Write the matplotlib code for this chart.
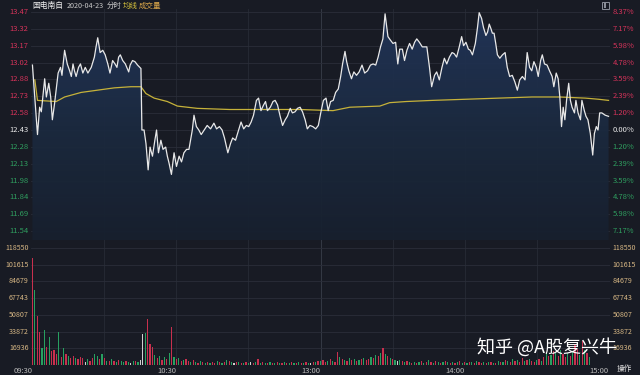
import matplotlib
matplotlib.use('Agg')
import matplotlib.pyplot as plt
from matplotlib.patches import Rectangle
from matplotlib.colors import LinearSegmentedColormap
import numpy as np

plt.rcParams['font.family'] = ['Noto Sans CJK SC', 'DejaVu Sans']

# ---------------- data ----------------
prev_close = 12.43
price_ticks = [13.47, 13.32, 13.17, 13.02, 12.88, 12.73, 12.58, 12.43,
               12.28, 12.13, 11.98, 11.84, 11.69, 11.54]
pct_labels = ['8.37%', '7.17%', '5.98%', '4.78%', '3.59%', '2.39%', '1.20%', '0.00%',
              '1.20%', '2.39%', '3.59%', '4.78%', '5.98%', '7.17%']
vol_ticks = [118550, 101615, 84679, 67743, 50807, 33872, 16936]
time_ticks = [0, 60, 120, 180, 240]
time_labels = ['09:30', '10:30', '13:00', '14:00', '15:00']

price_min = [0, 2.1, 3.0, 3.7, 5.1, 5.8, 6.8, 7.6, 8.3, 9.2, 10.7, 11.7, 12.3, 13.4, 14.5, 15.5,
             16.2, 16.9, 17.5, 18.2, 19.2, 20.0, 21.0, 22.0, 23.1, 24.5, 25.8, 26.5, 27.2, 28.2,
             29.3, 30.3, 31.4, 32.3, 33.4, 34.4, 35.2, 35.9, 36.6, 37.6, 38.7, 40.1, 40.7, 41.7,
             42.7, 43.8, 45.2, 45.6, 46.5, 47.3, 48.2, 49.0, 50.0, 51.0, 51.7, 52.5, 53.5, 54.4,
             55.5, 56.2, 56.9, 57.9, 59.0, 60.0, 61.1, 62.1, 63.1, 64.2, 65.2, 66.6, 67.3, 68.3,
             69.3, 70.3, 72.8, 74.2, 75.6, 76.7, 77.9, 79.0, 80.0, 81.4, 82.5, 83.4, 84.6, 85.9,
             86.9, 88.0, 89.1, 90.1, 91.1, 92.1, 93.3, 94.2, 95.2, 96.3, 97.1, 97.9, 99.1, 100.2,
             101.1, 102.1, 103.2, 104.2, 105.3, 106.2, 107.4, 108.3, 109.4, 110.4, 111.5, 112.5,
             113.6, 114.5, 115.6, 116.8, 118.0, 119.1, 120.1, 121.2, 122.3, 123.2, 124.2, 125.3,
             126.3, 127.4, 128.4, 129.2, 130.2, 130.9, 131.8, 132.9, 133.9, 135.0, 136.1, 137.3,
             138.4, 139.6, 140.8, 141.9, 143.0, 144.0, 145.0, 146.0, 146.9, 148.1, 149.1, 150.2,
             151.3, 152.2, 153.0, 154.1, 155.0, 156.0, 157.1, 158.2, 159.2, 160.1, 161.2, 162.4,
             164.3, 165.4, 166.3, 167.5, 168.4, 169.5, 170.6, 171.6, 172.6, 173.7, 174.8, 175.7,
             176.7, 177.8, 178.8, 179.6, 180.6, 181.6, 182.4, 183.3, 184.5, 185.4, 186.1, 187.1,
             187.9, 188.9, 189.6, 190.3, 191.0, 191.6, 192.3, 193.0, 193.7, 194.7, 195.8, 196.9,
             197.8, 198.8, 199.9, 201.0, 202.0, 203.0, 204.1, 205.2, 206.1, 207.1, 208.0, 208.9,
             209.9, 210.7, 211.7, 212.4, 213.3, 214.4, 215.4, 216.5, 217.2, 218.2, 219.0, 219.7,
             220.4, 221.1, 221.8, 222.5, 223.4, 224.1, 224.8, 225.8, 226.4, 227.3, 228.3, 228.9,
             229.9, 230.6, 231.4, 232.4, 233.4, 234.1, 234.9, 235.6, 236.3, 237.2, 238.6, 240.0]
price_val = [13.00, 12.39, 12.63, 12.59, 12.88, 12.72, 12.84, 12.72, 12.52, 12.66, 12.93, 12.98,
             12.91, 13.13, 13.01, 12.95, 12.90, 13.01, 12.95, 12.90, 12.98, 13.01, 12.93, 12.98,
             12.93, 12.98, 13.07, 13.16, 13.24, 13.11, 13.13, 13.09, 13.01, 12.93, 13.04, 13.01,
             12.98, 13.07, 13.09, 13.04, 13.01, 12.94, 13.00, 13.04, 13.03, 13.00, 12.97, 12.43,
             12.43, 12.31, 12.08, 12.28, 12.20, 12.34, 12.43, 12.23, 12.34, 12.26, 12.28, 12.20,
             12.14, 12.04, 12.23, 12.11, 12.20, 12.15, 12.23, 12.26, 12.26, 12.43, 12.56, 12.46,
             12.43, 12.39, 12.47, 12.44, 12.49, 12.44, 12.46, 12.43, 12.36, 12.23, 12.31, 12.36,
             12.34, 12.43, 12.50, 12.44, 12.47, 12.46, 12.50, 12.56, 12.69, 12.71, 12.60, 12.65,
             12.68, 12.60, 12.63, 12.68, 12.69, 12.65, 12.55, 12.47, 12.52, 12.55, 12.62, 12.58,
             12.59, 12.62, 12.63, 12.59, 12.52, 12.44, 12.47, 12.46, 12.44, 12.47, 12.58, 12.69,
             12.71, 12.60, 12.68, 12.69, 12.76, 12.79, 12.90, 13.01, 13.12, 13.03, 12.95, 12.88,
             12.94, 12.91, 12.94, 13.00, 12.93, 12.95, 13.00, 13.01, 13.00, 13.07, 13.16, 13.23,
             13.45, 13.25, 13.22, 13.19, 13.20, 13.01, 13.14, 13.14, 13.04, 13.13, 13.19, 13.14,
             13.20, 13.23, 13.20, 13.16, 13.16, 12.98, 12.81, 12.91, 12.94, 12.87, 12.98, 13.06,
             13.01, 13.07, 13.11, 13.10, 13.07, 13.16, 13.25, 13.17, 13.20, 13.14, 13.13, 13.09,
             13.19, 13.33, 13.46, 13.41, 13.33, 13.26, 13.29, 13.36, 13.32, 13.28, 13.28, 13.19,
             13.09, 13.06, 13.09, 13.11, 12.98, 12.90, 12.91, 12.85, 12.78, 12.87, 12.90, 12.87,
             13.11, 12.98, 12.95, 13.03, 12.98, 12.90, 13.04, 13.09, 13.01, 13.00, 12.95, 12.90,
             12.81, 12.93, 12.88, 12.72, 12.46, 12.63, 12.52, 12.69, 12.84, 12.69, 12.63, 12.58,
             12.69, 12.58, 12.52, 12.69, 12.60, 12.55, 12.52, 12.40, 12.21, 12.40, 12.46, 12.43,
             12.58, 12.58, 12.56, 12.55]

avg_min = [1.0, 2.1, 9.9, 13.4, 20.3, 27.2, 34.1, 41.0, 45.2, 47.3, 50.7, 56.2, 60.4, 68.7,
           82.2, 97.7, 111.5, 125.2, 132.2, 144.7, 148.8, 155.7, 166.6, 180.6, 194.4, 208.1,
           219.3, 230.3, 235.8, 240.0]
avg_val = [12.87, 12.69, 12.68, 12.72, 12.76, 12.78, 12.80, 12.81, 12.81, 12.75, 12.71, 12.68,
           12.64, 12.62, 12.61, 12.61, 12.61, 12.60, 12.63, 12.64, 12.67, 12.68, 12.69, 12.70,
           12.71, 12.72, 12.72, 12.71, 12.70, 12.69]

volume = [108700, 76000, 49600, 33700, 17500, 35100, 18200, 28400, 14200, 14900, 11000, 33700,
          8000, 17500, 11000, 9000, 7400, 9000, 7400, 5700, 8000, 7400, 3000, 6500, 4000, 7400,
          11400, 9000, 6000, 10800, 7400, 4000, 4000, 5700, 4000, 3500, 5000, 4000, 3500, 4500,
          3000, 2500, 4000, 4000, 3000, 5000, 31100, 32000, 46300, 21300, 18000, 10000, 7000,
          9000, 5000, 8000, 6000, 12000, 38500, 8000, 6000, 7000, 4000, 5000, 6000, 4000, 3000,
          5000, 3000, 2500, 4000, 3000, 2000, 3500, 2500, 3000, 2000, 4000, 3500, 2500, 3000,
          5000, 4000, 3000, 2500, 3500, 3000, 2000, 2500, 3000, 2000, 3500, 2500, 3000, 6000,
          2500, 3000, 2000, 2500, 3000, 2000, 2500, 3500, 2000, 2500, 3000, 2000, 2500, 3000,
          2000, 2500, 3000, 2500, 2000, 3000, 2500, 2000, 3000, 3500, 4000, 4000, 5000, 3000,
          4000, 6000, 4000, 3000, 13500, 8000, 6000, 5000, 4000, 7000, 5000, 6000, 4000, 5000,
          6000, 7000, 5000, 6000, 8000, 7000, 10000, 9000, 12000, 17500, 11000, 9000, 7000,
          6000, 5000, 4000, 5000, 4000, 3000, 4000, 3000, 2500, 3000, 2500, 3000, 4000, 2500,
          3000, 5000, 3500, 2500, 4000, 3000, 2000, 3000, 4500, 3000, 2500, 3500, 2000, 3000,
          4000, 2500, 3000, 2000, 3500, 3000, 2500, 4000, 3000, 2000, 3000, 2500, 3500, 3000,
          2000, 2500, 4000, 3000, 3500, 5000, 4000, 3000, 6000, 4000, 5000, 3000, 7000, 4000,
          5000, 6000, 4000, 3000, 5000, 6000, 4000, 8000, 12000, 9000, 10000, 14000, 12000,
          9000, 15000, 11000, 8000, 12000, 9000, 14000, 20000, 16000, 10000, 24000, 15000,
          12000, 8000]
vol_color = ("rgrrggrgrrrgrgrgrrgrrrwgrrggrgrgrgrgrggrgwgrgwwgrrrgrgrgrgrgrgrgrrg"
             "rgrgrgrgrrgrgrgrgwrgrgrgwrgrgrgrgrgrgrgrgrgrgrgrgwrgrgrrgrgrrgrgrgr"
             "grgrgrrgrgrgrgrgrgwgrgrgrgrgrgrgrgrgrgrgrgrgrgrgrgrgrrgrgrgrgrgrgrg"
             "rgrrgrgrrgrgrgrgrgrgrrgrgrrgrgrgrrrgrgrgrgr")

# ---------------- style ----------------
W, H = 640, 375
BG = '#181b24'
GRID = '#2a2e39'
RED = '#d6335a'
GREEN = '#2f9e5f'
WHITE = '#e8e8e8'
VOLLAB = '#d8b885'
LABEL_FS = 5.5

fig = plt.figure(figsize=(W / 100, H / 100), dpi=100, facecolor=BG)


def px_axes(x0, y0, x1, y1):
    return fig.add_axes([x0 / W, 1 - y1 / H, (x1 - x0) / W, (y1 - y0) / H])


ax = px_axes(31, 9, 610, 240)
axv = px_axes(31, 240, 610, 365)

step = (13.47 - prev_close) / 7
px_per_price = 16.92 / step
p_top = prev_close + 121 / px_per_price
p_bot = prev_close - 110 / px_per_price

for a in (ax, axv):
    a.set_facecolor(BG)
    for s in a.spines.values():
        s.set_visible(False)
    a.set_xticks([])
    a.set_yticks([])
    a.set_xlim(-0.6, 240.6)
    for m in range(30, 240, 30):
        a.axvline(m, color='#343945' if m == 120 else '#252933', lw=0.7, zorder=0)

ax.set_ylim(p_bot, p_top)
for t in price_ticks:
    ax.axhline(t, color=GRID, lw=0.6, zorder=0)

# gradient area fill under the price line
poly = ax.fill_between(price_min, price_val, p_bot, color='none', lw=0)
grad_cmap = LinearSegmentedColormap.from_list('g', ['#17202e', '#1c2a40', '#22365a'])
grad = np.linspace(0, 1, 256).reshape(-1, 1)
im = ax.imshow(grad, cmap=grad_cmap, aspect='auto', origin='lower',
               extent=[-0.6, 240.6, p_bot, max(price_val)], zorder=1, alpha=0.95)
for path in poly.get_paths():
    im.set_clip_path(path, transform=ax.transData)
ax.set_xlim(-0.6, 240.6)
ax.set_ylim(p_bot, p_top)

ax.plot(price_min, price_val, color=WHITE, lw=0.9, zorder=3)
ax.plot(avg_min, avg_val, color='#c6b23a', lw=0.9, zorder=2)

# price tick labels
for i, t in enumerate(price_ticks):
    if t > prev_close:
        c = RED
    elif t < prev_close:
        c = GREEN
    else:
        c = WHITE
    ax.text(-0.004, t, f'{t:.2f}', transform=ax.get_yaxis_transform(), ha='right',
            va='center', fontsize=LABEL_FS, color=c)
    ax.text(1.004, t, pct_labels[i], transform=ax.get_yaxis_transform(), ha='left',
            va='center', fontsize=LABEL_FS, color=c)

# volume
vmax = 125 / 117 * vol_ticks[0]
axv.set_ylim(0, vmax)
for t in vol_ticks:
    axv.axhline(t, color=GRID, lw=0.6, zorder=0)
    axv.text(-0.004, t, str(t), transform=axv.get_yaxis_transform(), ha='right',
             va='center', fontsize=LABEL_FS - 0.4, color=VOLLAB)
    axv.text(1.004, t, str(t), transform=axv.get_yaxis_transform(), ha='left',
             va='center', fontsize=LABEL_FS - 0.4, color=VOLLAB)

cmap = {'r': '#c8304e', 'g': '#27a060', 'w': '#d0d0d0'}
colors = [cmap[c] for c in vol_color[:len(volume)]]
axv.bar(range(len(volume)), volume, width=0.5, color=colors, lw=0, zorder=2)

# time labels (right-aligned at tick)
for m, lab in zip(time_ticks, time_labels):
    axv.annotate(lab, xy=(m, 0), xycoords=('data', 'axes fraction'), xytext=(0, -1.5),
                 textcoords='offset points', ha='right', va='top', fontsize=LABEL_FS,
                 color='#b8b8b8')
fig.text(617 / W, 1 - 369 / H, '操作', fontsize=LABEL_FS, color='#e0e0e0', va='center',
         ha='left')

# header
y_head = 1 - 6 / H
fig.text(32 / W, y_head, '国电南自', fontsize=5.6, color='#f0f0f0', va='center')
fig.text(67 / W, y_head, '2020-04-23', fontsize=5.2, color='#c8c8c8', va='center')
fig.text(107 / W, y_head, '分时', fontsize=5.4, color='#c8c8c8', va='center')
fig.text(123 / W, y_head, '均线', fontsize=5.4, color='#d6c23c', va='center')
fig.text(139 / W, y_head, '成交量', fontsize=5.4, color='#d9a54a', va='center')

# top-right icon
fig.patches.append(Rectangle((602 / W, 1 - 9 / H), 7 / W, 7 / H, transform=fig.transFigure,
                             fill=False, ec='#8a8e98', lw=0.7))
fig.patches.append(Rectangle((603.5 / W, 1 - 7.5 / H), 2 / W, 4 / H, transform=fig.transFigure,
                             fill=True, fc='#8a8e98', lw=0))

# watermark
fig.text(477 / W, 1 - 347 / H, '知乎 @A股复兴牛', fontsize=13, color='#ffffff', va='center',
         ha='left')

fig.savefig('out.png', dpi=100, facecolor=BG)
